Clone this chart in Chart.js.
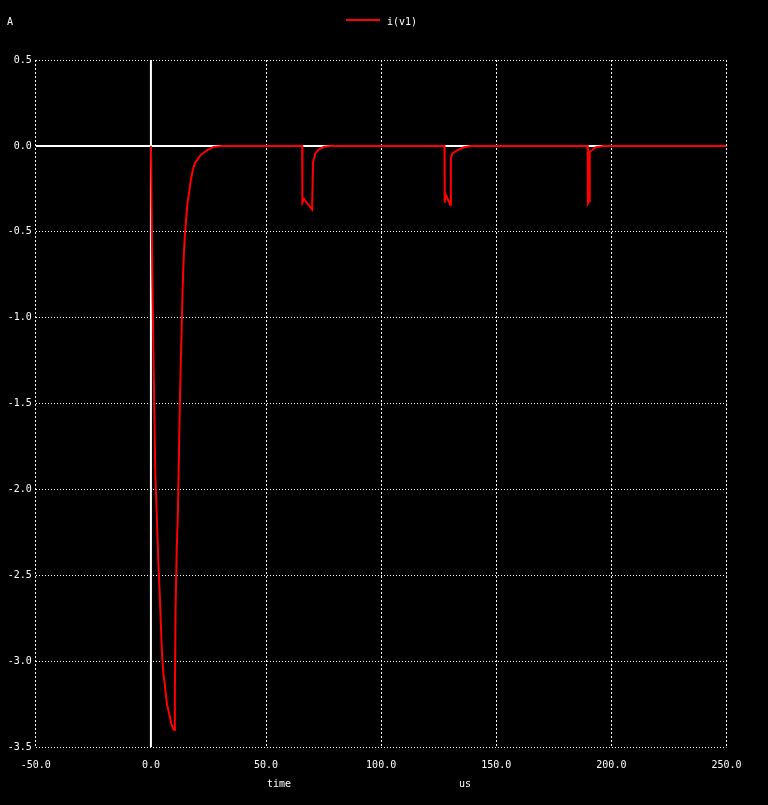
<!DOCTYPE html>
<html>
<head>
<meta charset="utf-8">
<script src="https://cdn.jsdelivr.net/npm/chart.js@4.4.1/dist/chart.umd.min.js"></script>
<style>
  html, body { margin: 0; padding: 0; background: #000; }
  canvas { display: block; }
</style>
</head>
<body>
<canvas id="plot" width="768" height="805"></canvas>
<script>
// i(v1) transient, time in us, current in A
const timeUs = [
  0, 0.2, 0.6, 1.2, 1.9, 2.8, 3.3, 3.8, 4.3, 4.8, 5.4, 6.0, 6.5, 7.0, 7.5, 8.0, 8.5, 9.0, 9.6, 10.2,
  10.4, 10.7, 11.2, 11.7, 12.1, 12.5, 12.9, 13.3, 13.8, 14.3, 14.8, 15.4, 15.9, 16.7, 17.3, 18.2, 19.1,
  20.2, 21.6, 24.5, 27.2, 31,
  65.7, 65.8, 66.5, 70.0, 70.4, 71.4, 73.0, 75.2, 78,
  127.5, 127.6, 127.9, 130.1, 130.3, 130.9, 133.1, 136, 139,
  189.7, 189.8, 190.4, 190.6, 191.7, 193.2, 196.8, 250
];
const currentA = [
  0, -0.25, -0.75, -1.3, -1.9, -2.25, -2.45, -2.6, -2.78, -2.95, -3.07, -3.13, -3.2, -3.25, -3.28, -3.31, -3.34, -3.37, -3.39, -3.40,
  -3.2, -2.7, -2.35, -2.15, -1.85, -1.55, -1.3, -1.1, -0.82, -0.63, -0.51, -0.41, -0.33, -0.26, -0.2, -0.14, -0.1,
  -0.08, -0.053, -0.024, -0.006, 0,
  0, -0.33, -0.31, -0.37, -0.10, -0.043, -0.02, -0.005, 0,
  0, -0.33, -0.28, -0.345, -0.07, -0.045, -0.024, -0.008, 0,
  0, -0.335, -0.32, -0.035, -0.024, -0.008, 0, 0
];

const xMin = -50, xMax = 250, xStep = 50;
const yMin = -3.5, yMax = 0.5, yStep = 0.5;

const trace = timeUs.map((t, i) => ({ x: t, y: currentA[i] }));
const zeroH = [{ x: xMin, y: 0 }, { x: xMax, y: 0 }];
const zeroV = [{ x: 0, y: yMin }, { x: 0, y: yMax }];

const mono = { family: 'DejaVu Sans Mono', size: 10 };

const decorations = {
  id: 'decorations',
  beforeDraw(chart) {
    const c = chart.ctx;
    c.save();
    c.fillStyle = '#000';
    c.fillRect(0, 0, chart.width, chart.height);
    c.restore();
  },
  afterDraw(chart) {
    const c = chart.ctx;
    c.save();
    c.font = '10px "DejaVu Sans Mono"';
    c.fillStyle = '#fff';
    c.textBaseline = 'middle';
    c.fillText('A', 7, 22);
    c.fillText('i(v1)', 387, 22);
    c.fillText('time', 267, 784);
    c.fillText('us', 459, 784);
    c.strokeStyle = '#ff0000';
    c.lineWidth = 2;
    c.beginPath();
    c.moveTo(346, 20);
    c.lineTo(380, 20);
    c.stroke();
    c.restore();
  }
};

new Chart(document.getElementById('plot'), {
  type: 'scatter',
  data: {
    datasets: [
      { label: 'i(v1)', data: trace, showLine: true, borderColor: '#ff0000', borderWidth: 2, pointRadius: 0, tension: 0 },
      { data: zeroH, showLine: true, borderColor: '#ffffff', borderWidth: 2, pointRadius: 0 },
      { data: zeroV, showLine: true, borderColor: '#ffffff', borderWidth: 2, pointRadius: 0 }
    ]
  },
  options: {
    responsive: false,
    animation: false,
    devicePixelRatio: 1,
    layout: { padding: { top: 60, right: 41.5, bottom: 0, left: 0 } },
    plugins: {
      legend: { display: false },
      tooltip: { enabled: false }
    },
    scales: {
      x: {
        type: 'linear',
        min: xMin,
        max: xMax,
        ticks: {
          stepSize: xStep,
          color: '#fff',
          font: mono,
          padding: 12,
          maxRotation: 0,
          autoSkip: false,
          callback: v => v.toFixed(1)
        },
        grid: { color: '#fff', lineWidth: 1, drawTicks: false },
        border: { display: false, dash: [2, 2] },
        afterFit: s => { s.height = 57.7; }
      },
      y: {
        type: 'linear',
        min: yMin,
        max: yMax,
        ticks: {
          stepSize: yStep,
          color: '#fff',
          font: mono,
          padding: 4,
          callback: v => v.toFixed(1)
        },
        grid: { color: '#fff', lineWidth: 1, drawTicks: false },
        border: { display: false, dash: [1, 2] },
        afterFit: s => { s.width = 35.8; }
      }
    }
  },
  plugins: [decorations]
});
</script>
</body>
</html>
